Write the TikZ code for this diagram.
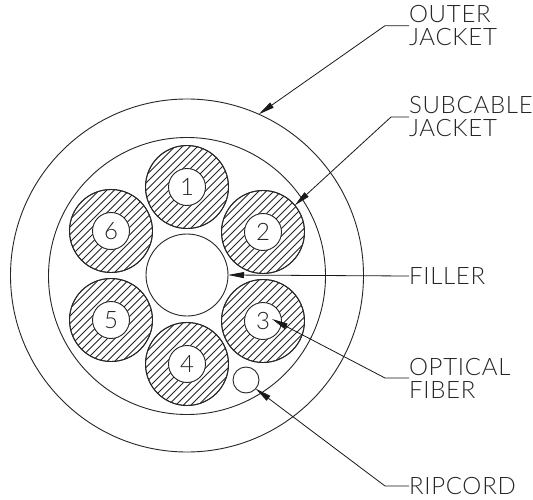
\documentclass[tikz,border=0pt]{standalone}
\usepackage{fontspec}
\usetikzlibrary{arrows.meta}
\newfontfamily\cadfont[UprightFont=* Light,LetterSpace=3]{Lato}
\tikzset{
  x=1pt,y=-1pt,
  ln/.style={line width=0.9pt,draw=black!85},
  disc/.style={circle,ln,inner sep=0pt,outer sep=0pt,minimum size=#1},
  fibre/.style={disc=37pt,fill=white,font=\cadfont\fontsize{24}{24}\selectfont,text=black!85},
  hatchline/.style={line width=0.85pt,draw=black!85},
  lab/.style={anchor=west,inner sep=0pt,outer sep=0pt,align=left,text=black!85,font=\cadfont\fontsize{24}{23}\selectfont},
  leader/.style={line width=0.8pt,draw=black!90,-{Triangle[length=16pt,width=6pt]}}
}
\begin{document}
\begin{tikzpicture}
\useasboundingbox (0,0) rectangle (533,500);
\fill[white] (0,0) rectangle (533,500);
\node[disc=353pt] (outer) at (187,275.5) {};
\node[disc=277pt] (inner) at (187,276) {};
\node[disc=82pt] (filler) at (187,275) {};
\node[disc=26pt] (ripcord) at (246,380) {};
\foreach \n/\px/\py in {1/187/187,2/263/232,3/263/321,4/187/364,5/111/320,6/111/231}{
  \node[disc=83pt] (cable\n) at (\px,\py) {};
  \begin{scope}
    \clip (\px,\py) circle (41.5);
    \foreach \k in {-9,...,9}
      \draw[hatchline] (\px+\k*7.5-50,\py+50) -- (\px+\k*7.5+50,\py-50);
  \end{scope}
  \node[disc=83pt] at (\px,\py) {};
  \node[fibre] (fiber\n) at (\px,\py) {\n};
}
\node[lab] (outerlab) at (409,25.7) {OUTER\\JACKET};
\node[lab] (sublab) at (409,117) {SUBCABLE\\JACKET};
\node[lab] (fillab) at (409,276) {FILLER};
\node[lab] (optlab) at (409,378) {OPTICAL\\FIBER};
\node[lab] (riplab) at (409,486) {RIPCORD};
\coordinate (e1) at (385,25.7);
\coordinate (e2) at (391,117);
\coordinate (e3) at (385,378);
\coordinate (e4) at (385,486);
\coordinate (fibretip) at (272,319);
\draw[leader] (outerlab.west) -- (e1) -- (outer.66);
\draw[leader] (sublab.west) -- (e2) -- (cable2.40);
\draw[leader] (fillab.west) -- (filler.east);
\draw[leader] (optlab.west) -- (e3) -- (fibretip);
\draw[leader] (riplab.west) -- (e4) -- (ripcord.-42);
\end{tikzpicture}
\end{document}
